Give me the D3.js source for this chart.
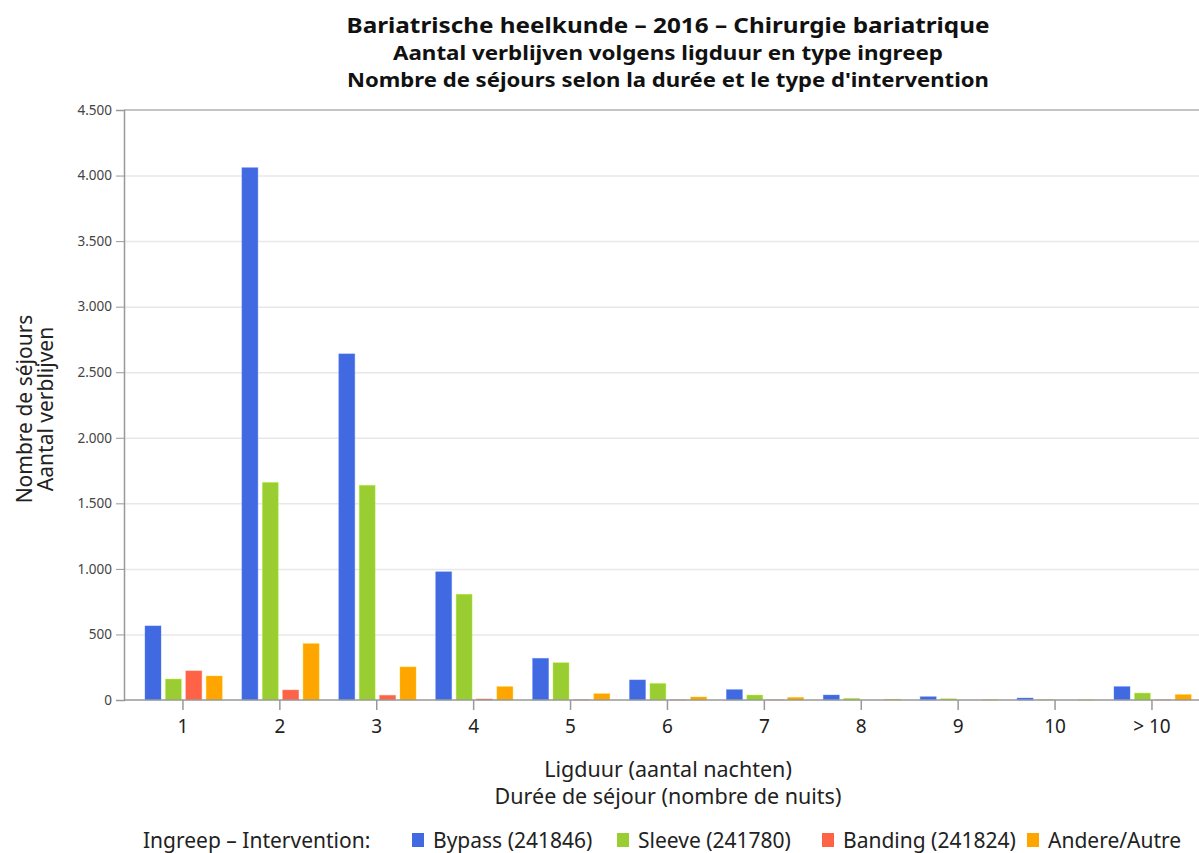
<!DOCTYPE html>
<html><head><meta charset="utf-8">
<script src="https://cdn.jsdelivr.net/npm/d3@7"></script>
<style>body{margin:0;background:#fff}svg{display:block}text{font-family:"Noto Sans",sans-serif}</style>
</head><body>
<svg id="c" width="1199" height="853"></svg>
<script>
const categories = ["1","2","3","4","5","6","7","8","9","10","> 10"];
const seriesNames = ["Bypass (241846)","Sleeve (241780)","Banding (241824)","Andere/Autre"];
const seriesColors = ["#4169e1","#9acd32","#ff6347","#ffa500"];
const bypass  = [565, 4060, 2640, 978, 318, 153, 79, 38, 25, 15, 102];
const sleeve  = [160, 1660, 1638, 807, 285, 127, 38, 13, 10, 3, 53];
const banding = [222, 76, 36, 8, 2, 1, 1, 0, 0, 0, 1];
const andere  = [183, 430, 252, 102, 48, 23, 20, 5, 2, 1, 41];
const yTicks = [0,500,1000,1500,2000,2500,3000,3500,4000,4500];
const titleLines = ["Bariatrische heelkunde – 2016 – Chirurgie bariatrique","Aantal verblijven volgens ligduur en type ingreep","Nombre de séjours selon la durée et le type d'intervention"];

(function(){
const series = [bypass, sleeve, banding, andere];
const svg = d3.select("#c");
const pLeft = 124, pRight = 1199, pTop = 110, pBottom = 700;

const x = d3.scaleBand().domain(categories).range([134.5, 1200.4]).paddingInner(0).paddingOuter(0);
const x1 = d3.scaleBand().domain(d3.range(4)).range([10.5, 87.7]).paddingInner(0.216).paddingOuter(0);
const y = d3.scaleLinear().domain([0,4500]).range([pBottom, pTop]);

// grid
svg.append("g").selectAll("line").data(yTicks.filter(d=>d>0 && d<4500)).join("line")
  .attr("x1", pLeft).attr("x2", pRight).attr("y1", d=>y(d)+0.5).attr("y2", d=>y(d)+0.5)
  .attr("stroke", "#e8e8e8").attr("stroke-width", 1.5);
svg.append("line").attr("x1", pLeft).attr("x2", pRight).attr("y1", y(4500)).attr("y2", y(4500))
  .attr("stroke", "#c4c4c4").attr("stroke-width", 2);

// bars
const g = svg.append("g");
categories.forEach((c, i) => {
  series.forEach((s, j) => {
    g.append("rect")
      .attr("x", x(c) + x1(j))
      .attr("width", x1.bandwidth())
      .attr("y", y(s[i]))
      .attr("height", pBottom - y(s[i]))
      .attr("fill", seriesColors[j])
      .attr("stroke", d3.color(seriesColors[j]).brighter(0.6))
      .attr("stroke-opacity", 0.5).attr("stroke-width", 0.8);
  });
});

// y axis
const ya = svg.append("g").attr("transform", `translate(${pLeft},0)`)
  .call(d3.axisLeft(y).tickValues(yTicks).tickSize(8).tickFormat(d => d3.format(",")(d).replace(/,/g,".")));
ya.select(".domain").attr("stroke", "#999").attr("stroke-width", 1.5);
ya.selectAll(".tick line").attr("stroke", "#999");
ya.selectAll(".tick text").attr("font-size", 13.5).attr("fill", "#444").attr("dx", -1);

// x axis
const xa = svg.append("g").attr("transform", `translate(0,${pBottom})`)
  .call(d3.axisBottom(x).tickSize(10).tickSizeOuter(0));
xa.select(".domain").remove();
svg.append("line").attr("x1", pLeft).attr("x2", pRight).attr("y1", pBottom).attr("y2", pBottom)
  .attr("stroke", "#999").attr("stroke-width", 1.5);
xa.selectAll(".tick line").attr("stroke", "#999").attr("stroke-width", 1.5);
xa.selectAll(".tick text").attr("font-size", 19).attr("fill", "#222").attr("dy", "1.05em");

// titles
const tsz = [21, 19.5, 19.5], ty = [33, 60, 87], tlen = [643, 550, 642];
titleLines.forEach((t, i) => {
  svg.append("text").attr("x", 668).attr("y", ty[i]).attr("text-anchor", "middle")
    .attr("font-weight", "bold").attr("font-size", tsz[i]).attr("fill", "#111")
    .attr("textLength", tlen[i]).attr("lengthAdjust", "spacingAndGlyphs").text(t);
});

// axis titles
svg.append("text").attr("x", 668).attr("y", 777).attr("text-anchor","middle").attr("font-size",21.5).attr("fill","#222").text("Ligduur (aantal nachten)");
svg.append("text").attr("x", 668).attr("y", 804).attr("text-anchor","middle").attr("font-size",21.5).attr("fill","#222").text("Durée de séjour (nombre de nuits)");
svg.append("text").attr("transform","translate(32,409) rotate(-90)").attr("text-anchor","middle").attr("font-size",21).attr("fill","#222").text("Nombre de séjours");
svg.append("text").attr("transform","translate(53,409) rotate(-90)").attr("text-anchor","middle").attr("font-size",21).attr("fill","#222").text("Aantal verblijven");

// legend
const lg = svg.append("g");
lg.append("text").attr("x", 143).attr("y", 848).attr("font-size", 21).attr("fill", "#222").text("Ingreep – Intervention:");
const lx = [412, 617, 822, 1027];
seriesNames.forEach((n, j) => {
  lg.append("rect").attr("x", lx[j]).attr("y", 833).attr("width", 12).attr("height", 14).attr("fill", seriesColors[j]);
  lg.append("text").attr("x", lx[j] + 21).attr("y", 848).attr("font-size", 21).attr("fill", "#222").text(n);
});
})();
</script>
</body></html>
